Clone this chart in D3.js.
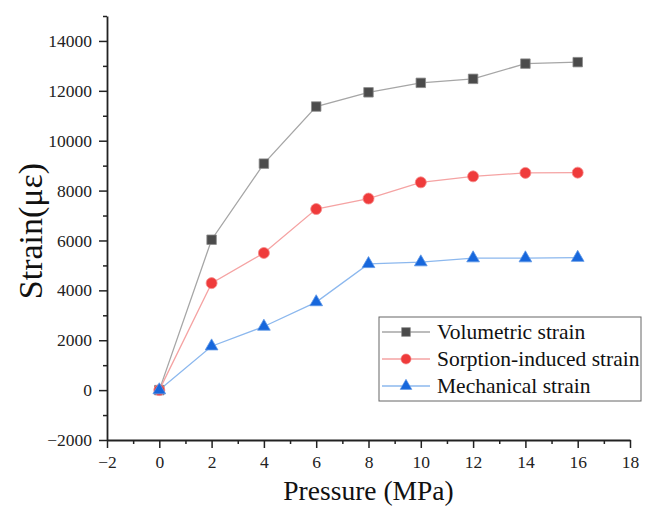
<!DOCTYPE html>
<html>
<head>
<meta charset="utf-8">
<script src="https://cdn.jsdelivr.net/npm/d3@7"></script>
<style>
  body { margin: 0; background: #fff; }
  svg { display: block; }
</style>
</head>
<body>
<svg id="chart" width="648" height="508"></svg>
<script>
const pressure = [0, 2, 4, 6, 8, 10, 12, 14, 16];
const volumetric = [0, 6030, 9080, 11370, 11940, 12320, 12480, 13090, 13150];
const sorption = [0, 4290, 5500, 7260, 7680, 8330, 8570, 8710, 8720];
const mechanical = [0, 1760, 2550, 3530, 5060, 5130, 5290, 5290, 5310];
const seriesNames = ["Volumetric strain", "Sorption-induced strain", "Mechanical strain"];
const xTicks = [-2, 0, 2, 4, 6, 8, 10, 12, 14, 16, 18];
const yTicks = [-2000, 0, 2000, 4000, 6000, 8000, 10000, 12000, 14000];

const width = 648, height = 508;
const margin = { top: 16, right: 18, bottom: 68, left: 107 };
const plotW = width - margin.left - margin.right;
const plotH = height - margin.top - margin.bottom;

const svg = d3.select("#chart");
const g = svg.append("g").attr("transform", `translate(${margin.left},${margin.top})`);

const x = d3.scaleLinear().domain([-2, 18]).range([0, plotW]);
const y = d3.scaleLinear().domain([-2000, 15000]).range([plotH, 0]);

const font = "Liberation Serif, Times New Roman, serif";

// minor ticks
g.append("g")
  .attr("transform", `translate(0,${plotH})`)
  .call(d3.axisBottom(x).tickValues(d3.range(-1, 18, 2)).tickSize(4).tickSizeOuter(0).tickFormat(""))
  .call(a => a.select(".domain").remove());
g.append("g")
  .call(d3.axisLeft(y).tickValues(d3.range(-1000, 15001, 2000)).tickSize(4).tickSizeOuter(0).tickFormat(""))
  .call(a => a.select(".domain").remove());

// X axis
const xAxis = g.append("g")
  .attr("transform", `translate(0,${plotH})`)
  .call(d3.axisBottom(x).tickValues(xTicks).tickSize(8).tickSizeOuter(0).tickPadding(8)
    .tickFormat(d => d < 0 ? "\u2212" + Math.abs(d) : d));
xAxis.attr("font-family", font).attr("font-size", 17.5);
xAxis.selectAll("text").attr("fill", "#222");

// Y axis
const yAxis = g.append("g")
  .call(d3.axisLeft(y).tickValues(yTicks).tickSize(8).tickSizeOuter(0).tickPadding(7)
    .tickFormat(d => d < 0 ? "\u2212" + Math.abs(d) : d));
yAxis.attr("font-family", font).attr("font-size", 17.5);
yAxis.selectAll("text").attr("fill", "#222");

g.selectAll(".domain").attr("stroke", "#222").attr("stroke-width", 1.8);
g.selectAll(".tick line").attr("stroke", "#222").attr("stroke-width", 1.5);

// Axis titles
svg.append("text")
  .attr("x", margin.left + x(8))
  .attr("y", 500)
  .attr("text-anchor", "middle")
  .attr("font-family", font)
  .attr("font-size", 27.5)
  .attr("fill", "#111")
  .text("Pressure (MPa)");

svg.append("text")
  .attr("transform", `translate(42,${margin.top + plotH / 2 + 3}) rotate(-90)`)
  .attr("text-anchor", "middle")
  .attr("font-family", font)
  .attr("font-size", 34)
  .attr("fill", "#111")
  .text("Strain(\u03bc\u03b5)");

// Series
const series = [
  { name: seriesNames[0], values: volumetric, line: "#a6a6a6", fill: "#4b4b4b", stroke: "#8a8a8a", symbol: d3.symbolSquare, size: 90 },
  { name: seriesNames[1], values: sorption, line: "#f5a3a3", fill: "#ef3b3b", stroke: "#f58a8a", symbol: d3.symbolCircle, size: 95 },
  { name: seriesNames[2], values: mechanical, line: "#8cb8ee", fill: "#1767dc", stroke: "#5c95e6", symbol: d3.symbolTriangle, size: 70 }
];

const line = d3.line().x(d => x(d[0])).y(d => y(d[1]));

series.forEach(s => {
  const pts = pressure.map((p, i) => [p, s.values[i]]);
  g.append("path")
    .datum(pts)
    .attr("fill", "none")
    .attr("stroke", s.line)
    .attr("stroke-width", 1.3)
    .attr("d", line);
});

series.forEach(s => {
  const pts = pressure.map((p, i) => [p, s.values[i]]);
  g.append("g")
    .selectAll("path")
    .data(pts)
    .join("path")
    .attr("transform", d => `translate(${x(d[0])},${y(d[1])})`)
    .attr("d", d3.symbol().type(s.symbol).size(s.size))
    .attr("fill", s.fill)
    .attr("stroke", s.stroke)
    .attr("stroke-width", 0.8);
});

// Legend
const legend = svg.append("g").attr("transform", "translate(379,317)");
legend.append("rect")
  .attr("width", 262).attr("height", 84)
  .attr("fill", "#fff").attr("stroke", "#666").attr("stroke-width", 1);

series.forEach((s, i) => {
  const row = legend.append("g").attr("transform", `translate(0,${15 + i * 27})`);
  row.append("line").attr("x1", 3).attr("x2", 51).attr("y1", 0).attr("y2", 0)
    .attr("stroke", s.line).attr("stroke-width", 1.3);
  row.append("path")
    .attr("transform", "translate(27,0)")
    .attr("d", d3.symbol().type(s.symbol).size(s.size * 0.85))
    .attr("fill", s.fill).attr("stroke", s.stroke).attr("stroke-width", 0.6);
  row.append("text")
    .attr("x", 58).attr("y", 7)
    .attr("font-family", font)
    .attr("font-size", 21.5)
    .attr("fill", "#111")
    .text(s.name);
});
</script>
</body>
</html>
